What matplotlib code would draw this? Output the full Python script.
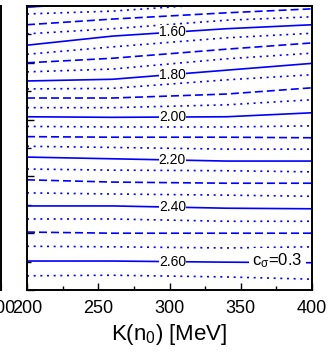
import matplotlib
matplotlib.use('Agg')
import numpy as np
import matplotlib.pyplot as plt
from matplotlib.ticker import MultipleLocator

plt.rcParams['font.family'] = ['Liberation Sans', 'DejaVu Sans']
plt.rcParams['mathtext.default'] = 'regular'

# contour levels and the height of each one, read at four K columns
# (y axis has no labels in the picture: 0 = bottom, 5 = top)
levels = [1.40, 1.45, 1.50, 1.55, 1.60, 1.65, 1.70, 1.75, 1.80, 1.85, 1.90, 1.95,
          2.00, 2.05, 2.10, 2.15, 2.20, 2.25, 2.30, 2.35, 2.40, 2.45, 2.50, 2.55,
          2.60, 2.65]
K_cols = [200, 260, 340, 400]
y_K200 = [4.98, 4.86, 4.67, 4.51, 4.31, 4.15, 4.00, 3.84, 3.68, 3.54, 3.38, 3.21,
          3.05, 2.88, 2.70, 2.53, 2.34, 2.13, 1.94, 1.71, 1.48, 1.25, 1.02, 0.77,
          0.51, 0.25]
y_K260 = [5.07, 4.91, 4.77, 4.60, 4.47, 4.28, 4.08, 3.89, 3.71, 3.55, 3.38, 3.21,
          3.04, 2.87, 2.69, 2.51, 2.31, 2.11, 1.90, 1.69, 1.48, 1.25, 1.00, 0.76,
          0.51, 0.26]
y_K340 = [5.19, 5.05, 4.88, 4.75, 4.60, 4.44, 4.24, 4.07, 3.87, 3.70, 3.45, 3.26,
          3.05, 2.87, 2.69, 2.48, 2.27, 2.10, 1.88, 1.67, 1.44, 1.21, 1.00, 0.74,
          0.49, 0.23]
y_K400 = [5.28, 5.16, 4.95, 4.81, 4.67, 4.52, 4.35, 4.17, 3.99, 3.79, 3.56, 3.35,
          3.12, 2.89, 2.68, 2.48, 2.27, 2.08, 1.88, 1.65, 1.43, 1.21, 1.00, 0.76,
          0.48, 0.19]

label_levels = [1.60, 1.80, 2.00, 2.20, 2.40, 2.60]
label_K = 302
panel_text = r'c$_σ$=0.3'

line_color = '#0000ff'
dotted = (0, (1.2, 2.8))
dashed = (0, (4.8, 2.4))

fig = plt.figure(figsize=(3.31, 3.55), dpi=100)
ax = fig.add_axes([27 / 331, 1 - 290 / 355, 285 / 331, 284 / 355])

# edge of the neighbouring panel on the left, only its last tick label shows
ax_left = fig.add_axes([-200 / 331, 1 - 290 / 355, 201 / 331, 284 / 355])
ax_left.set_xlim(200, 400)
ax_left.set_ylim(0, 5)
ax_left.set_xticks([400])
ax_left.set_yticks([])

rows = np.array([y_K200, y_K260, y_K340, y_K400]).T
for lev, row in zip(levels, rows):
    step = int(round(lev * 100)) % 20
    if step == 0:
        ls = '-'
    elif step == 10:
        ls = dashed
    else:
        ls = dotted
    ax.plot(K_cols, row, color=line_color, lw=1.2, ls=ls, zorder=2)
    if any(abs(lev - l) < 1e-6 for l in label_levels):
        yl = np.interp(label_K, K_cols, row)
        ax.text(label_K, yl, f'{lev:.2f}', ha='center', va='center', fontsize=10,
                zorder=4, bbox=dict(boxstyle='square,pad=0', fc='white', ec='none'))

ax.text(0.878, 0.102, panel_text, transform=ax.transAxes, ha='center', va='center',
        fontsize=12, zorder=5,
        bbox=dict(boxstyle='square,pad=0.2', fc='white', ec='none'))

ax.set_xlim(200, 400)
ax.set_ylim(0, 5)
ax.xaxis.set_major_locator(MultipleLocator(50))
ax.xaxis.set_minor_locator(MultipleLocator(25))
ax.yaxis.set_major_locator(MultipleLocator(1))
ax.yaxis.set_minor_locator(MultipleLocator(0.5))
ax.tick_params(which='both', direction='in', top=False, right=False, width=1.0,
               labelsize=13, pad=7)
ax.tick_params(which='major', length=5)
ax.tick_params(which='minor', length=3)
ax.tick_params(axis='y', labelleft=False)
ax_left.tick_params(which='both', direction='in', labelsize=13, pad=7, length=5)
for a in (ax, ax_left):
    for s in a.spines.values():
        s.set_linewidth(1.4)

ax.set_xlabel(r'K(n$_0$) [MeV]', fontsize=16, labelpad=4)

fig.savefig('out.png', dpi=100)
